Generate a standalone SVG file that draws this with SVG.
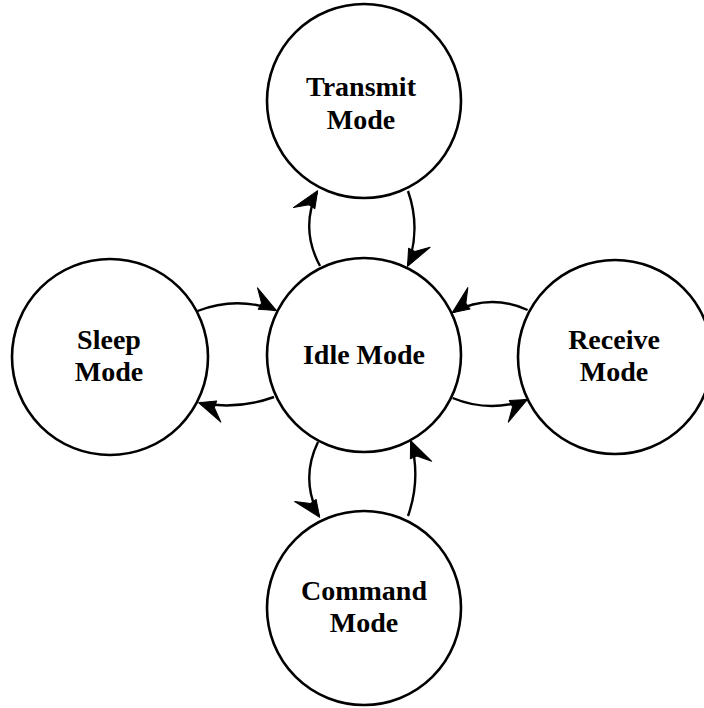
<svg xmlns="http://www.w3.org/2000/svg" width="704" height="708" viewBox="0 0 704 708">
<style>
.node circle{fill:#fff;stroke:#000;stroke-width:2.6}
.node text{font-family:"Liberation Serif","Times New Roman",serif;font-weight:bold;font-size:28px;text-anchor:middle;fill:#000}
.edge{fill:none;stroke:#000;stroke-width:2.4}
.l{marker-end:url(#arrL)}
.r{marker-end:url(#arrR)}
marker{overflow:visible}
</style>
<defs>
<marker id="arrL" markerUnits="userSpaceOnUse" markerWidth="40" markerHeight="40" viewBox="-30 -20 40 40" refX="0" refY="0" orient="auto">
<path d="M1.5,0 L-24,-15 L-15,-2 L-16,5 Z" fill="#000" stroke="#000" stroke-width="1" stroke-linejoin="round"/>
</marker>
<marker id="arrR" markerUnits="userSpaceOnUse" markerWidth="40" markerHeight="40" viewBox="-30 -20 40 40" refX="0" refY="0" orient="auto">
<path d="M1.5,0 L-24,15 L-15,2 L-16,-5 Z" fill="#000" stroke="#000" stroke-width="1" stroke-linejoin="round"/>
</marker>
</defs>
<rect width="704" height="708" fill="#fff"/>
<g id="transmit" class="node"><circle cx="364" cy="101" r="97"/><text x="361" y="96">Transmit</text><text x="361" y="129">Mode</text></g>
<g id="idle" class="node"><circle cx="364" cy="355" r="97"/><text x="364" y="364">Idle Mode</text></g>
<g id="sleep" class="node"><circle cx="110" cy="357" r="98"/><text x="109" y="349">Sleep</text><text x="109" y="381">Mode</text></g>
<g id="receive" class="node"><circle cx="615" cy="357" r="97"/><text x="614" y="349">Receive</text><text x="614" y="381">Mode</text></g>
<g id="command" class="node"><circle cx="364" cy="608" r="97"/><text x="364" y="600">Command</text><text x="364" y="632">Mode</text></g>
<g id="connectors">
<path class="edge l" d="M320,266 Q300,229 317,192"/>
<path class="edge l" d="M408,191 Q421,228 408,265"/>
<path class="edge r" d="M318,442 Q300,479 319,516"/>
<path class="edge r" d="M408,516 Q421,479 411,442"/>
<path class="edge l" d="M197.5,311 Q236,296 275,310"/>
<path class="edge l" d="M274,397 Q238,410 200,403"/>
<path class="edge r" d="M527.6,310 Q490,293 453.5,312"/>
<path class="edge r" d="M452.6,398 Q489,413 526,400"/>
</g>
</svg>
